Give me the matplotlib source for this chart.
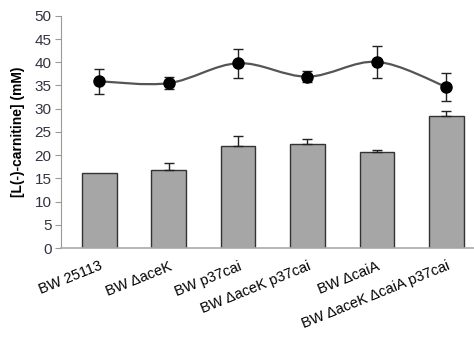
import numpy as np
import matplotlib.pyplot as plt
from matplotlib.path import Path
from matplotlib.patches import PathPatch

plt.rcParams['font.family'] = ['Liberation Sans', 'DejaVu Sans']

# Data
strains = ['BW 25113', 'BW \u0394aceK', 'BW p37cai', 'BW \u0394aceK p37cai',
           'BW \u0394caiA', 'BW \u0394aceK \u0394caiA p37cai']
bar_vals = [16.2, 16.8, 21.9, 22.4, 20.6, 28.5]
bar_err = [0.0, 1.5, 2.2, 1.1, 0.6, 1.0]
line_vals = [35.9, 35.5, 39.8, 36.9, 40.1, 34.7]
line_err = [2.7, 1.3, 3.1, 1.2, 3.4, 3.0]


def smooth_path(xs, ys):
    # Catmull-Rom style smoothing drawn as cubic bezier segments
    xs = np.asarray(xs, float)
    ys = np.asarray(ys, float)
    n = len(xs)
    verts = [(xs[0], ys[0])]
    codes = [Path.MOVETO]
    for i in range(n - 1):
        x0, y0 = (xs[i - 1], ys[i - 1]) if i > 0 else (xs[i], ys[i])
        x3, y3 = (xs[i + 2], ys[i + 2]) if i + 2 < n else (xs[i + 1], ys[i + 1])
        x1, y1 = xs[i], ys[i]
        x2, y2 = xs[i + 1], ys[i + 1]
        c1 = (x1 + (x2 - x0) / 6, y1 + (y2 - y0) / 6)
        c2 = (x2 - (x3 - x1) / 6, y2 - (y3 - y1) / 6)
        verts += [c1, c2, (x2, y2)]
        codes += [Path.CURVE4] * 3
    return Path(verts, codes)


fig = plt.figure(figsize=(4.74, 3.37), dpi=100)
ax = fig.add_axes([0.129, 0.264, 0.871, 0.689])

x = np.arange(len(strains))
ax.bar(x, bar_vals, width=0.5, color='#a6a6a6', edgecolor='#333333', linewidth=1.0, zorder=2)
# only draw error bars where there is an error
err = np.array(bar_err)
has = err > 0
ax.errorbar(x[has], np.array(bar_vals)[has], yerr=[np.zeros(has.sum()), err[has]], fmt='none',
            ecolor='#222222', elinewidth=1.0, capsize=3.5, capthick=1.0, zorder=3)

ax.add_patch(PathPatch(smooth_path(x, line_vals), facecolor='none',
                       edgecolor='#555555', linewidth=1.6, zorder=3))
ax.errorbar(x, line_vals, yerr=line_err, fmt='o', color='black', markersize=8,
            ecolor='#222222', elinewidth=1.0, capsize=3.5, capthick=1.0, zorder=4)

ax.set_xlim(-0.55, 5.4)
ax.set_ylim(0, 50)
ax.set_yticks(range(0, 51, 5))
ax.set_xticks(x)
ax.set_xticklabels(strains, rotation=22, ha='right', rotation_mode='anchor', fontsize=10.5)
ax.tick_params(axis='x', length=0, pad=8)
ax.tick_params(axis='y', length=4, color='#999999', labelsize=11, labelcolor='#333344', pad=3)

for s in ['top', 'right']:
    ax.spines[s].set_visible(False)
ax.spines['left'].set_color('#999999')
ax.spines['bottom'].set_color('#aaaaaa')
ax.spines['bottom'].set_linewidth(1.2)

ax.set_ylabel('[L(-)-carnitine] (mM)', fontsize=10, fontweight='bold', labelpad=7)

fig.savefig('out.png', dpi=100)
